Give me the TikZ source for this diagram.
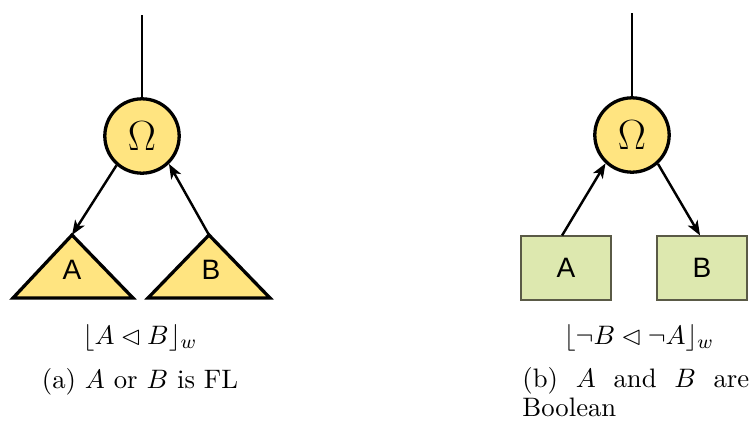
\documentclass[tikz,border=0pt]{standalone}
\usepackage{fontspec}
\usepackage{amssymb}
\newfontfamily\lsans{Liberation Sans}
\usetikzlibrary{arrows.meta}
\definecolor{ylw}{RGB}{255,228,128}
\definecolor{grn}{RGB}{221,232,175}
\definecolor{bgr}{RGB}{90,90,70}
\begin{document}
\begin{tikzpicture}[x=0.41pt,y=-0.41pt,
  opnode/.style={circle,draw,line width=1.35pt,fill=ylw,minimum size=30.5pt,inner sep=0pt,font=\fontsize{18}{20}\selectfont},
  tri/.style={draw,line width=1.35pt,fill=ylw,line join=miter},
  bbox/.style={draw=bgr,line width=0.5pt,fill=grn,minimum width=36.9pt,minimum height=26.2pt,inner sep=0pt},
  lbl/.style={font=\fontsize{11.5}{13}\lsans},
  txt/.style={font=\fontsize{10.95}{12.2}\selectfont},
  arr/.style={-{Stealth[length=6pt,width=4.6pt,inset=1.6pt]},line width=1pt},
  stem/.style={line width=1pt}]
\useasboundingbox (0,0) rectangle (749,421);
% left panel
\node[opnode] (om1) at (142,136) {$\Omega$};
\coordinate (top1) at (142,15);
\draw[stem] (top1) -- (om1);
\coordinate (ta) at (72,235);
\coordinate (tb) at (209,235);
\draw[tri] (13,298) -- (ta) -- (133,298) -- cycle;
\draw[tri] (148,298) -- (tb) -- (270,298) -- cycle;
\node[lbl] (la) at (72,270) {A};
\node[lbl] (lb) at (211,270) {B};
\draw[arr] (om1.229) -- (ta);
\draw[arr] (tb) -- (om1.314);
\node[txt,anchor=base] (f1) at (140,344) {$\lfloor A \lhd B \rfloor_w$};
\node[txt,anchor=base] (c1) at (140,388) {(a)~$A$ or $B$ is FL};
% right panel
\node[opnode] (om2) at (632,135) {$\Omega$};
\coordinate (top2) at (632,13);
\draw[stem] (top2) -- (om2);
\node[bbox,lbl] (ba) at (566,268) {A};
\node[bbox,lbl] (bb) at (702,268) {B};
\draw[arr] ([xshift=-1.6pt]ba.north) -- (om2.227);
\draw[arr] (om2.312) -- ([xshift=-0.8pt]bb.north);
\node[txt,anchor=base] (f2) at (639,344) {$\lfloor \neg B \lhd \neg A \rfloor_w$};
\node[txt,anchor=base west,text width=93pt,align=justify,inner sep=0pt] (c2) at (522,387)
  {\hbadness=10000 (b) $A$ and $B$ are\linebreak Boolean};
\end{tikzpicture}
\end{document}
